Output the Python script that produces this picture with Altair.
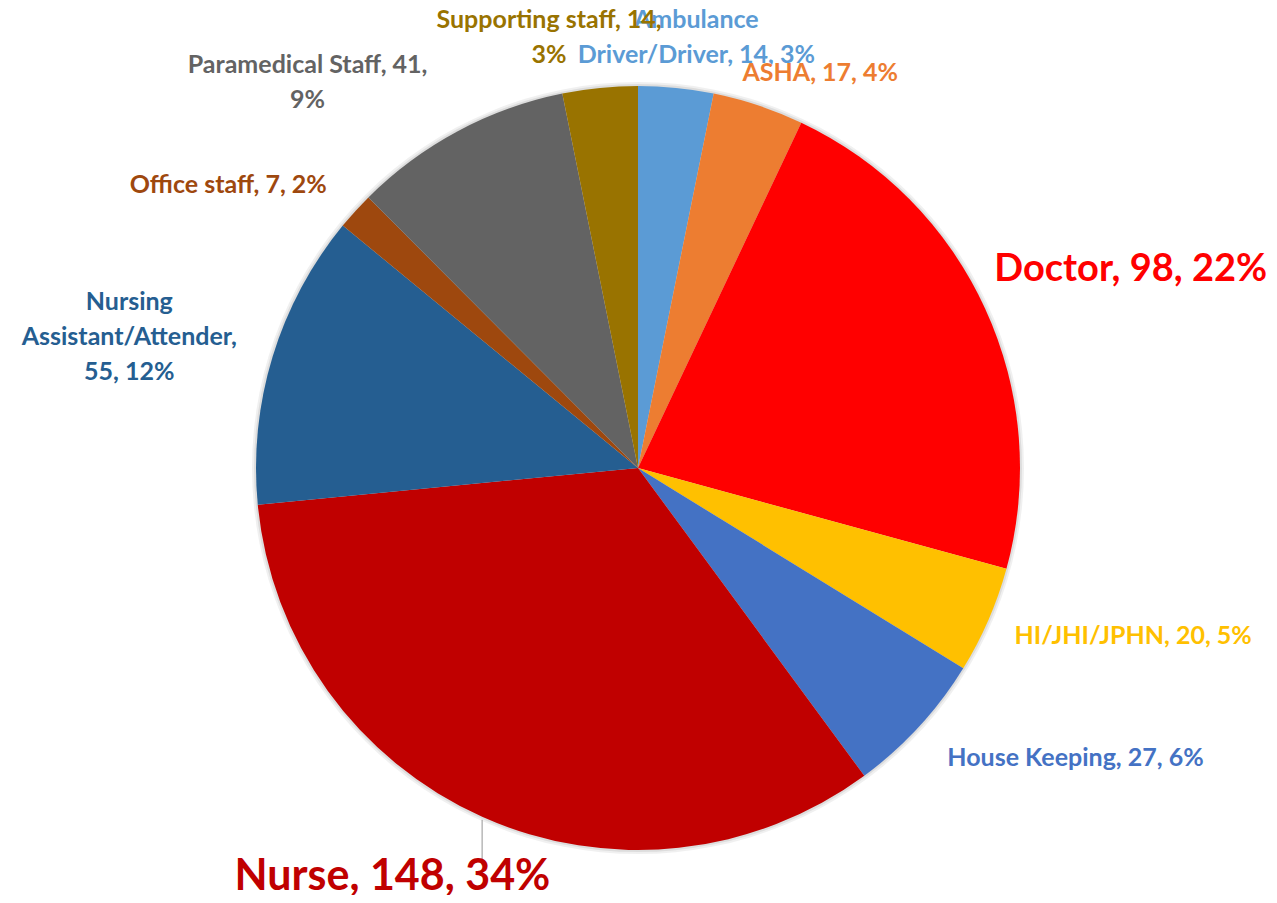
import math
import altair as alt
import pandas as pd

# ---- data ----
roles = ["Ambulance Driver/Driver", "ASHA", "Doctor", "HI/JHI/JPHN", "House Keeping",
         "Nurse", "Nursing Assistant/Attender", "Office staff", "Paramedical Staff",
         "Supporting staff"]
counts = [14, 17, 98, 20, 27, 148, 55, 7, 41, 14]
colors = ["#5B9BD5", "#ED7D31", "#FF0000", "#FFC000", "#4472C4",
          "#C00000", "#255E91", "#9E480E", "#636363", "#997300"]
# where each data label wraps
label_breaks = ["Ambulance\nDriver/Driver, {c}, {p}%", "ASHA, {c}, {p}%", "Doctor, {c}, {p}%",
                "HI/JHI/JPHN, {c}, {p}%", "House Keeping, {c}, {p}%", "Nurse, {c}, {p}%",
                "Nursing\nAssistant/Attender,\n{c}, {p}%", "Office staff, {c}, {p}%",
                "Paramedical Staff, {c},\n{p}%", "Supporting staff, {c},\n{p}%"]

# ---- layout (label placement, not data) ----
label_nudge_deg = [1.7, 6.4, 2.8, -4.7, -9.1, 6.9, 1.1, -7.6, -11.2, -5.5]
label_radius = [452, 435, 531, 523, 525, 477, 535, 498, 521, 457]
label_size = [25, 25, 38, 25, 25, 43, 25, 25, 25, 25]
R = 382
CX, CY = 630, 460

total = sum(counts)
cum = []
s = 0
for c in counts:
    cum.append(s + c / 2)
    s += c

rows = []
for i, (r, c) in enumerate(zip(roles, counts)):
    pct = round(c / total * 100)
    rows.append({
        "role": r, "count": c, "idx": i,
        "label": label_breaks[i].format(c=c, p=pct),
        "lab_pos": cum[i] + label_nudge_deg[i] / 360 * total,
        "lab_r": label_radius[i],
        "lab_size": label_size[i],
    })
df = pd.DataFrame(rows)

theta_scale = alt.Scale(domain=[0, total])
color_scale = alt.Scale(domain=roles, range=colors)

shadow = alt.Chart(pd.DataFrame({"k": [0]})).mark_arc(
    theta=0, theta2=2 * math.pi, radius=R + 4, color="#000000", opacity=0.06
).encode(x=alt.value(CX), y=alt.value(CY))
shadow2 = alt.Chart(pd.DataFrame({"k": [0]})).mark_arc(
    theta=0, theta2=2 * math.pi, radius=R + 2, color="#000000", opacity=0.08
).encode(x=alt.value(CX), y=alt.value(CY))

pie = alt.Chart(df).mark_arc(radius=R).encode(
    theta=alt.Theta("count:Q", stack=True, scale=theta_scale),
    order=alt.Order("idx:Q"),
    color=alt.Color("role:N", scale=color_scale, legend=None),
    x=alt.value(CX), y=alt.value(CY),
)

labels = alt.Chart(df).mark_text(
    font="Lato", fontWeight="bold", align="center", baseline="middle", lineBreak="\n",
    lineHeight=35
).encode(
    theta=alt.Theta("lab_pos:Q", stack=None, scale=theta_scale),
    radius=alt.Radius("lab_r:Q", scale=None),
    size=alt.Size("lab_size:Q", scale=None),
    text="label:N",
    color=alt.Color("role:N", scale=color_scale, legend=None),
    x=alt.value(CX), y=alt.value(CY),
)

# leader line for the Nurse label: from the slice edge at its mid angle down to the label
ni = roles.index("Nurse")
ang = cum[ni] / total * 2 * math.pi
lx = CX + R * math.sin(ang)
ly = CY - R * math.cos(ang)
leader = alt.Chart(pd.DataFrame({"k": [0]})).mark_rule(color="#A6A6A6", strokeWidth=1.2).encode(
    x=alt.value(lx), y=alt.value(ly + 3), y2=alt.value(CY + label_radius[ni] * 0.833)
)

chart = alt.layer(shadow, shadow2, pie, leader, labels).properties(
    width=1261, height=887, padding=0, autosize="none"
).configure_view(stroke=None)

chart.save("out.html", embed_options={"renderer": "svg", "actions": False})
